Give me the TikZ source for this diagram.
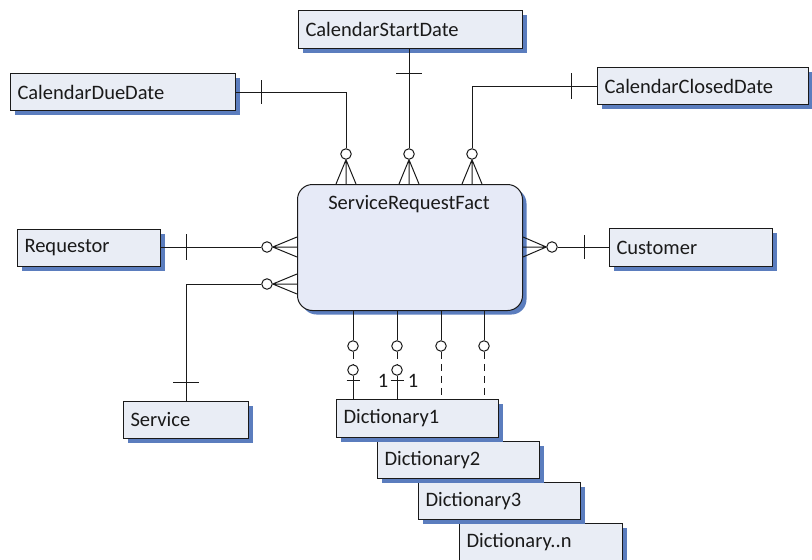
\documentclass[tikz,border=0pt]{standalone}
\usepackage{fontspec}
\setmainfont{Carlito}
\usetikzlibrary{shadows,calc}
\definecolor{boxfill}{HTML}{E9EDF5}
\definecolor{factfill}{HTML}{E6EAF7}
\definecolor{shadowblue}{HTML}{5B7DBE}
\definecolor{ink}{HTML}{1A1A1A}
\tikzset{
  blueshadow/.style={drop shadow={shadow xshift=4pt,shadow yshift=-4pt,fill=shadowblue,opacity=1}},
  ent/.style 2 args={draw=ink, line width=1pt, fill=boxfill, blueshadow, inner xsep=7pt, inner ysep=0pt,
    anchor=north west, align=left, text width=#1, minimum height=#2, text=ink,
    font=\fontsize{20.5}{24}\selectfont},
  rel/.style={draw=ink, line width=1pt},
  reldash/.style={draw=ink, line width=1pt, dash pattern=on 7pt off 5pt},
  oc/.style={circle, draw=ink, fill=white, minimum size=10.5pt, inner sep=0pt, line width=1pt},
}
\begin{document}
\begin{tikzpicture}[x=1pt,y=-1pt]
\useasboundingbox (0,0) rectangle (812,560);
% entities
\node[ent={210pt}{38pt}] (csd) at (298,10) {CalendarStartDate};
\node[ent={211pt}{37pt}] (cdd) at (10,73) {CalendarDueDate};
\node[ent={197pt}{37pt}] (ccd) at (597,67) {CalendarClosedDate};
\node[ent={129pt}{37pt}] (req) at (17,229) {Requestor};
\node[ent={149pt}{38pt}] (cus) at (609,228) {Customer};
\node[ent={111pt}{37pt}] (ser) at (123,401) {Service};
\node[ent={149pt}{38pt}] (dn) at (459,523) {Dictionary..n};
\node[ent={148pt}{37pt}] (d3) at (418,482) {Dictionary3};
\node[ent={148pt}{37pt}] (d2) at (377,441) {Dictionary2};
\node[ent={148pt}{38pt}] (d1) at (336,399) {Dictionary1};
% fact
\node[draw=ink, line width=1pt, fill=factfill, blueshadow, rounded corners=15pt,
  minimum width=225pt, minimum height=126pt, anchor=north west, inner sep=0pt] (fact) at (297,184) {};
\node[font=\fontsize{20.5}{24}\selectfont, text=ink] (factlabel) at (409,204.5) {ServiceRequestFact};
% circles
\node[oc] (t1) at (346,154) {};
\node[oc] (t2) at (409,154) {};
\node[oc] (t3) at (472,154) {};
\node[oc] (l1) at (267,247) {};
\node[oc] (l2) at (267,284) {};
\node[oc] (r1) at (552,247) {};
\node[oc] (b1) at (353,346) {};
\node[oc] (b2) at (397,346) {};
\node[oc] (b3) at (441,346) {};
\node[oc] (b4) at (484,346) {};
\node[oc] (b1x) at (353,370) {};
\node[oc] (b2x) at (397,370) {};
% top connectors
\draw[rel] (cdd.east) -| (t1.north);
\draw[rel] (t2 |- csd.south) -- (t2.north);
\draw[rel] (ccd.west) -| (t3.north);
\foreach \o in {t1,t2,t3}{
  \draw[rel] (\o.south) -- (\o |- fact.north)
             (\o.south) -- ($(\o |- fact.north)+(-10,0)$)
             (\o.south) -- ($(\o |- fact.north)+(10,0)$);
}
\draw[rel] ($(cdd.east)+(25,-12)$) -- ++(0,24);
\draw[rel] ($(t2 |- csd.south)+(-13,24)$) -- ++(26,0);
\draw[rel] ($(ccd.west)+(-26,-13)$) -- ++(0,26);
% left connectors
\draw[rel] (req.east |- l1) -- (l1.west);
\draw[rel] (l2.west) -| (ser.north);
\foreach \o in {l1,l2}{
  \draw[rel] (\o.east) -- (\o -| fact.west)
             (\o.east) -- ($(\o -| fact.west)+(0,-10)$)
             (\o.east) -- ($(\o -| fact.west)+(0,10)$);
}
\draw[rel] ($(req.east |- l1)+(25,-13)$) -- ++(0,26);
\draw[rel] ($(ser.north)+(-13,-19)$) -- ++(26,0);
% right connector
\draw[rel] (r1.east) -- (cus.west |- r1);
\draw[rel] (r1.west) -- (r1 -| fact.east)
           (r1.west) -- ($(r1 -| fact.east)+(0,-10)$)
           (r1.west) -- ($(r1 -| fact.east)+(0,10)$);
\draw[rel] ($(cus.west |- r1)+(-25,-12)$) -- ++(0,24);
% bottom connectors
\foreach \o in {b1,b2,b3,b4}{
  \draw[rel] (\o |- fact.south) -- (\o.north);
}
\draw[reldash] (b1.south) -- (b1x.north);
\draw[reldash] (b2.south) -- (b2x.north);
\draw[reldash] (b3.south) -- (b3 |- d1.north);
\draw[reldash] (b4.south) -- (b4 |- d1.north);
\draw[rel] (b1x.south) -- (b1x |- d1.north);
\draw[rel] (b2x.south) -- (b2x |- d1.north);
\draw[rel] ($(b1x.south)+(-6.5,5)$) -- ++(13,0);
\draw[rel] ($(b2x.south)+(-6.5,5)$) -- ++(13,0);
\node[font=\fontsize{20.5}{24}\selectfont, text=ink] (one1) at (383,381) {1};
\node[font=\fontsize{20.5}{24}\selectfont, text=ink] (one2) at (413,381) {1};
\end{tikzpicture}
\end{document}
